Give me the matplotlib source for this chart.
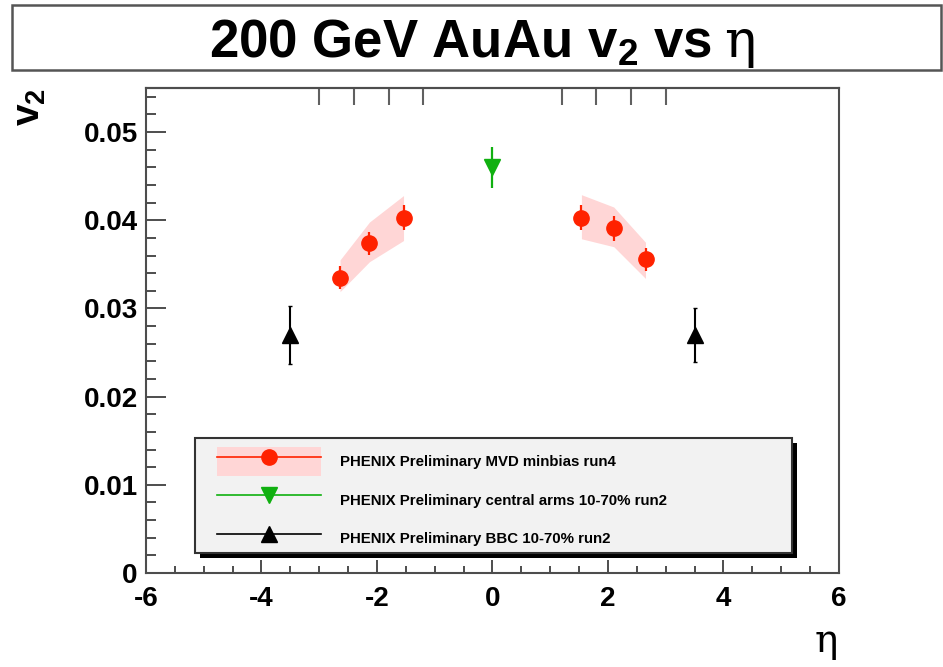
import matplotlib
matplotlib.use("Agg")
import matplotlib.pyplot as plt
import matplotlib.patheffects as pe
from matplotlib.patches import Rectangle, Patch
from matplotlib.lines import Line2D
from matplotlib.ticker import MultipleLocator

plt.rcParams['font.family'] = ['Liberation Sans', 'DejaVu Sans']
plt.rcParams['font.weight'] = 'bold'
plt.rcParams['mathtext.fontset'] = 'custom'
plt.rcParams['mathtext.bf'] = 'Liberation Sans:bold'

# MVD minbias run4 (stat errors + systematic band)
mvd_eta = [-2.64, -2.13, -1.54, 1.54, 2.10, 2.65]
mvd_v2 = [0.0335, 0.0374, 0.0403, 0.0403, 0.0391, 0.0356]
mvd_err = [0.0013, 0.0013, 0.0014, 0.0014, 0.0014, 0.0013]
mvd_sys_lo = [0.0319, 0.0353, 0.0377, 0.0379, 0.0370, 0.0334]
mvd_sys_hi = [0.0355, 0.0398, 0.0428, 0.0429, 0.0415, 0.0375]
mvd_edges = [-3.0, -2.4, -1.8, -1.2, 1.2, 1.8, 2.4, 3.0]

# central arms 10-70% run2
cen_eta = [0.0]
cen_v2 = [0.0460]
cen_err = [0.0023]

# BBC 10-70% run2
bbc_eta = [-3.5, 3.5]
bbc_v2 = [0.0270, 0.0270]
bbc_err = [0.0033, 0.0031]

labels = ["PHENIX Preliminary MVD minbias run4",
          "PHENIX Preliminary central arms 10-70% run2",
          "PHENIX Preliminary BBC 10-70% run2"]

red = '#ff2200'
pink = '#ffd6d6'
green = '#10b010'
frame = '#4d4d4d'
W, H = 943, 667

fig = plt.figure(figsize=(9.43, 6.67), dpi=100)
ax = fig.add_axes([0.1548, 0.1409, 0.7349, 0.7272])

# systematic bands, one per side
ax.fill_between(mvd_eta[:3], mvd_sys_lo[:3], mvd_sys_hi[:3], color=pink, lw=0, zorder=1)
ax.fill_between(mvd_eta[3:], mvd_sys_lo[3:], mvd_sys_hi[3:], color=pink, lw=0, zorder=1)

ax.errorbar(mvd_eta, mvd_v2, yerr=mvd_err, fmt='o', color=red, ms=11, elinewidth=1.6,
            capsize=0, zorder=3)
ax.errorbar(cen_eta, cen_v2, yerr=cen_err, fmt='v', color=green, ms=12, elinewidth=1.6,
            capsize=0, zorder=3)
ax.errorbar(bbc_eta, bbc_v2, yerr=bbc_err, fmt='^', color='black', ms=12, elinewidth=1.5,
            capsize=1.5, zorder=3)

ax.set_xlim(-6, 6)
ax.set_ylim(0, 0.055)
ax.xaxis.set_minor_locator(MultipleLocator(0.5))
ax.yaxis.set_minor_locator(MultipleLocator(0.002))
ax.set_xticks([-6, -4, -2, 0, 2, 4, 6], labels=['-6', '-4', '-2', '0', '2', '4', '6'])
ax.set_yticks([0, 0.01, 0.02, 0.03, 0.04, 0.05],
              labels=['0', '0.01', '0.02', '0.03', '0.04', '0.05'])
ax.tick_params(axis='both', which='both', direction='in', color=frame, width=1.4,
               labelsize=20, top=False, right=False)
ax.tick_params(axis='x', which='major', length=9.5, pad=9)
ax.tick_params(axis='x', which='minor', length=5)
ax.tick_params(axis='y', which='major', length=14.5, pad=6)
ax.tick_params(axis='y', which='minor', length=7.2)
for sp in ax.spines.values():
    sp.set_color(frame)
    sp.set_linewidth(1.5)

# bin edges on the top axis
top = ax.secondary_xaxis('top')
top.set_xticks(mvd_edges, labels=[''] * len(mvd_edges))
top.tick_params(direction='in', length=12, width=1.5, color='#606060')
top.spines['top'].set_color(frame)
top.spines['top'].set_linewidth(1.5)

# legend box with hard shadow
box = Rectangle((0.0707, 0.041), 0.8615, 0.237, transform=ax.transAxes,
                facecolor='#f2f2f2', edgecolor='#333333', lw=1.5, zorder=4)
box.set_path_effects([pe.SimplePatchShadow(offset=(3.5, -3.5), shadow_rgbFace='black', alpha=1.0),
                      pe.Normal()])
ax.add_patch(box)

handles = [(Patch(facecolor=pink, edgecolor='none'),
            Line2D([], [], color=red, lw=1.2, marker='o', ms=11)),
           Line2D([], [], color=green, lw=1.2, marker='v', ms=12),
           Line2D([], [], color='black', lw=1.2, marker='^', ms=12)]
leg = ax.legend(handles, labels, loc='upper left', bbox_to_anchor=(0.1025, 0.259),
                frameon=False, borderpad=0, borderaxespad=0, handlelength=6.9,
                handleheight=2.6, handletextpad=1.3, labelspacing=0.62, numpoints=1,
                prop={'size': 10.8, 'weight': 'bold'})
leg.set_zorder(5)

# title box
fig.patches.append(Rectangle((12 / W, 1 - 70 / H), 929 / W, 65 / H, transform=fig.transFigure,
                             facecolor='white', edgecolor='#555555', lw=1.8))
yb = 1 - 57 / H
t1 = fig.text(0, yb, r"200 GeV AuAu v$_\mathbf{2}$ vs", ha='left', va='baseline',
              fontsize=38, fontweight='bold')
t2 = fig.text(0, yb, "\u03b7", ha='left', va='baseline', fontsize=38,
              family='DejaVu Serif', fontweight='normal')
r = fig.canvas.get_renderer()
w1 = t1.get_window_extent(r).width
w2 = t2.get_window_extent(r).width
gap = 12
x0 = 482 - (w1 + gap + w2) / 2
t1.set_x(x0 / W)
t2.set_x((x0 + w1 + gap) / W)

fig.text(30 / W, 1 - 107 / H, r"v$_\mathbf{2}$", rotation=90, ha='center', va='center',
         fontsize=28, fontweight='bold')
fig.text(826 / W, 1 - 642 / H, "\u03b7", ha='center', va='center', fontsize=28,
         family='DejaVu Serif', fontweight='normal')

fig.savefig('out.png', dpi=100)
